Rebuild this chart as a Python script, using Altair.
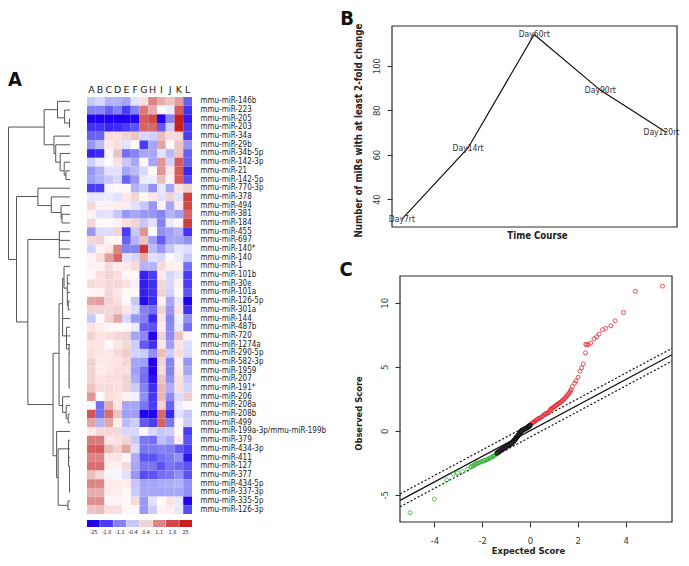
import altair as alt
import pandas as pd

FONT = "DejaVu Sans Condensed"

# ---------- panel A data ----------
rows = ["mmu-miR-146b","mmu-miR-223","mmu-miR-205","mmu-miR-203","mmu-miR-34a","mmu-miR-29b","mmu-miR-34b-5p",
        "mmu-miR-142-3p","mmu-miR-21","mmu-miR-142-5p","mmu-miR-770-3p","mmu-miR-378","mmu-miR-494","mmu-miR-381",
        "mmu-miR-184","mmu-miR-455","mmu-miR-697","mmu-miR-140*","mmu-miR-140","mmu-miR-1","mmu-miR-101b","mmu-miR-30e",
        "mmu-miR-101a","mmu-miR-126-5p","mmu-miR-301a","mmu-miR-144","mmu-miR-487b","mmu-miR-720","mmu-miR-1274a",
        "mmu-miR-290-5p","mmu-miR-582-3p","mmu-miR-1959","mmu-miR-207","mmu-miR-191*","mmu-miR-206","mmu-miR-208a",
        "mmu-miR-208b","mmu-miR-499","mmu-miR-199a-3p/mmu-miR-199b","mmu-miR-379","mmu-miR-434-3p","mmu-miR-411",
        "mmu-miR-127","mmu-miR-377","mmu-miR-434-5p","mmu-miR-337-3p","mmu-miR-335-5p","mmu-miR-126-3p"]
columns = list("ABCDEFGHIJKL")
heat = [
 [-1,-.7,-1.3,-1.3,-1.5,-.5,.7,2,1.5,1.2,1.7,-2.5],
 [-2,-2,-2.5,-2,-3,-2,2.2,1.5,0,-.3,2.7,-3.2],
 [-4,-4,-4,-4,-4,-4,2.7,3,-4,-2,4,-3.7],
 [-3.2,-3.2,-3.5,-3.4,-3,-2.7,2.5,2.5,-2.6,-.8,4,-3],
 [-2.5,-2.5,.7,.7,1,1.2,-.7,-.8,1.3,.8,.9,-3],
 [-1.7,-1.2,.5,.7,-.5,0,-3,-1.5,1.6,0,1.2,-1.7],
 [-3.6,-3.4,-.1,1.2,-2.3,-2,-1.5,-1.5,-.5,-1.2,1.2,-2.5],
 [-.8,-.3,0,.7,-1,-1.5,0,-1.5,1.8,-.8,2.7,-2.5],
 [-1.7,-1.3,-.5,-.5,-1.5,-1.2,-.7,0,1.8,.5,2.7,-3.5],
 [-1.6,-1.3,-1,-.7,-2.5,-1.7,-.3,-.3,1.3,.1,2.7,-2.8],
 [-3,-3,-.1,0,0,-1.3,-1,-1.8,-.4,-1.5,.6,1],
 [-.4,-.4,-.3,-.5,.5,1,0,.5,-.5,1,-.5,3.2],
 [.9,.2,.2,.3,.3,-.5,-1,-1.7,.2,-1.5,.4,3],
 [.2,-.5,-.5,-1,-1.7,-1.5,-1.7,-1.7,-2,-1.3,-1.6,2.5],
 [.9,0,0,.2,.7,1,-1,-.5,-2,-.3,.1,3.3],
 [-1.7,-.6,-.6,1,-3,-1,1.8,0,-1.8,-1.6,-1.3,-3.2],
 [.9,1,.1,0,-2.5,-1.3,1.2,-1.6,-2.6,-1.5,-1.5,-1.8],
 [-.8,.2,.5,2,-2,-2,3.5,-1.2,-1.7,-1,-.4,-.6],
 [.2,.7,1.7,2.5,-.5,-.7,1.5,-.5,-.7,0,-.3,-1],
 [.2,.2,.8,.3,.5,.8,-1.3,-1.3,.8,.3,.2,-2.3],
 [0,.7,1,.7,0,0,-3.6,-3,.4,-.7,-.4,-3],
 [.8,.7,.9,.9,.7,-.2,-3.7,-3.3,.9,-.7,.2,-3],
 [0,.2,.9,.5,0,0,-3.6,-3.2,1,-.8,0,-2.7],
 [1.6,1.7,1,.7,0,-1,-3.9,-3.4,.2,-1.5,-.4,-4],
 [1,1,.9,1,.5,-.6,-2,-2.3,1,-1.7,.6,-3.3],
 [-1,0,1,1.6,-.7,-1.7,-2,-3.5,.6,-2,-.2,-1.8],
 [.6,.3,0,0,0,-.3,-2.5,-2.7,.3,-1.9,-.3,-2.3],
 [1,.6,.7,.9,1,-1.5,-1.9,-4,1,-1.9,1.2,.1],
 [.6,.5,0,.5,.9,-.9,-2.6,-3.3,.5,-1.6,.6,-.6],
 [.7,.5,.5,.8,1.1,-.8,-.9,-1.8,1.3,-.9,.7,-.7],
 [1,.4,.5,.6,.9,-1.5,-1.6,-4,1,-2,.2,-1.7],
 [1,.4,.5,.7,.7,-1.6,-2.2,-4,.8,-2,.4,-1.5],
 [1,.6,.7,.7,1,-1.4,-2.3,-3.8,1.2,-1.8,.7,-1],
 [1.2,.8,.8,.7,1,-.9,-2,-3.3,1.4,-1.4,.7,-.8],
 [1.8,0,.7,.6,.2,-.2,-1.8,-3.1,1.4,-1.9,-.6,1.1],
 [0,-2.3,1.5,.5,-1.5,-1.5,-2.2,-3,1,-2.5,-.3,0],
 [2.8,-2.3,2.4,1.2,-1.6,-1.6,-4,-4,2.5,-3.5,-.5,-1],
 [1.6,-1.3,1.6,.3,-1.2,-.9,-2.6,-3,2.6,-2.2,0,-.9],
 [.4,.9,.9,.9,-.7,-.7,0,-.7,-1,-.9,0,-3],
 [2.2,2.2,.5,.7,1,-1,-2.2,-2.3,-1.1,-1.4,.3,-2.7],
 [2.6,2.7,1.3,1,1.6,-.6,-2.2,-2.1,-2,-2.1,-2.6,-3],
 [2,2,.5,.6,0,-1.4,-2.7,-2.7,-2.3,-2.1,-1.8,-3.8],
 [2.4,2.4,.3,.2,.8,-1.5,-2.2,-2.2,-2.7,-2.2,-2.4,-2.7],
 [1.3,.9,-.1,-.1,-.5,-1.7,-2.8,-2.7,-2.3,-2.2,-1.8,-2.7],
 [2,2,.4,.4,.3,-1,-1.5,-1.5,-1.4,-1.4,-1.3,-1.8],
 [1.5,1.5,.4,.3,0,-.9,-1.5,-1.5,-1.5,-1.5,-1.5,-1.8],
 [1.9,1.9,.1,.1,0,.8,-1.7,-.5,0,.6,-.4,-4],
 [1.2,1.3,.7,.7,0,0,-1.7,-.9,.2,.2,-.4,-2.8],
]
color_levels = [-4,-3,-2,-1,0,1,2,3,4]
color_hex = ["#2200f0","#4a3cf4","#8582f2","#c8c8f8","#ffffff","#f0d4d4","#da8686","#d04848","#c81e1e"]
key_levels = [-4,-3,-2,-1,1,2,3,4]
key_labels = ["-25","-1.8","-1.1","-0.4","0.4","1.1","1.8","25"]

# dendrogram: (height, row from, row to) and (row, height from, height to)
den_v = [(1,2.96,18.2),(41,.96,5),(56,0,1.9),(64,1,2.5),(69.5,2,3),(52,4,6),(54,5,7),(59,6,8),(63.5,7,8.5),(65.5,8,9),
         (10,10.95,25.4),(34,10,12),(49,11,12.8),(60,12,13.5),(61,13,14),(22.7,15.9,34.9),(58,15,18),
         (51,29,40.8),(57.7,23.3,35),(61.7,20.4,27),(63.3,19,21.5),(67,20,23.5),(68,23,24),(66,26,28.5),(69,28,33),
         (61.7,34,35.8),(65.7,35,36.5),(68,36,37),(55,38,43.3),(56.7,40,46.5),(68.3,39,42),(69.5,42,45),(67.7,46,47)]
den_h = [(2.96,1,41),(.96,41,56),(0,56,70),(1.9,56,64),(1,64,70),(2.5,64,69.5),(2,69.5,70),(3,69.5,70),
         (5,41,52),(4,52,70),(6,52,54),(5,54,70),(7,54,59),(6,59,70),(8,59,63.5),(7,63.5,70),(8.5,63.5,65.5),(8,65.5,70),(9,65.5,70),
         (18.2,1,10),(10.95,10,34),(10,34,70),(12,34,49),(11,49,70),(12.8,49,60),(12,60,70),(13.5,60,61),(13,61,70),(14,61,70),
         (25.4,10,22.7),(15.9,22.7,58),(15,58,70),(16,58,70),(17,58,70),(18,58,70),
         (34.9,22.7,51),(29,51,57.7),(23.3,57.7,61.7),(20.4,61.7,63.3),(19,63.3,70),(21.5,63.3,67),(20,67,70),(21,67,70),(22,67,70),
         (23.5,67,68),(23,68,70),(24,68,70),(25,61.7,70),(27,61.7,66),(26,66,70),(27,66,70),(28,66,70),(28.5,66,69),
         (29,69,70),(30,69,70),(31,69,70),(32,69,70),(33,69,70),
         (35,57.7,61.7),(34,61.7,70),(35.8,61.7,65.7),(35,65.7,70),(36.5,65.7,68),(36,68,70),(37,68,70),
         (40.8,51,55),(38,55,70),(43.3,55,56.7),(40,56.7,68.3),(46.5,56.7,67.7),(39,68.3,70),(40,68.3,70),(41,68.3,70),
         (42,68.3,69.5),(42,69.5,70),(43,69.5,70),(44,69.5,70),(45,69.5,70),(46,67.7,70),(47,67.7,70)]

# ---------- panel B data ----------
days = ["Day7rt","Day14rt","Day60rt","Day90rt"]
day_order = [1,2,3,4]
mirs = [31,63,114,89]
last_day, last_order, last_mirs = "Day120rt", 5, 70

# ---------- panel C data ----------
red_x = [5.54,4.41,3.91,3.56,3.38,3.17,3.03,2.89,2.79,2.68,2.54,2.44,2.37,2.33,2.32,2.23,2.16,2.09,2.01,1.92,1.87,1.77,
         1.72,1.7,1.66,1.62,1.58,1.54,1.5,1.46,1.42,1.38,1.34,1.3,1.26,1.22,1.18,1.14,1.1,1.06,1.02,.98,.94,.9,.87,.84,.8,
         .76,.72,.68,.64,.6,.55,.5,.47,.42,.38,.33,.29,.25,.2,.17,.13,.1,.06,.02]
red_y = [11.3,10.89,9.24,8.59,8.2,8.0,7.89,7.55,7.34,7.19,6.85,6.72,6.72,6.75,6.09,5.23,4.92,4.64,4.17,3.9,3.72,3.46,
         3.2,3.13,3.0,2.9,2.82,2.72,2.62,2.54,2.46,2.4,2.32,2.26,2.2,2.16,2.1,2.06,2.0,1.94,1.88,1.82,1.78,1.73,1.68,1.6,1.47,
         1.41,1.38,1.35,1.32,1.27,1.18,1.1,1.06,1.0,.97,.93,.88,.8,.74,.7,.66,.6,.55,.47]
black_x = [-1.38,-1.32,-1.26,-1.2,-1.14,-1.08,-1.02,-.96,-.9,-.84,-.78,-.72,-.68,-.64,-.6,-.56,-.52,-.48,-.44,-.4,-.36,-.32,-.26,-.2,-.14,-.08,-.04,0]
black_y = [-1.74,-1.66,-1.58,-1.5,-1.42,-1.36,-1.28,-1.2,-1.14,-1.08,-1.0,-.9,-.8,-.7,-.6,-.5,-.42,-.32,-.22,-.1,-.02,.04,.1,.16,.22,.3,.36,.42]
green_x = [-5.02,-4.0,-3.49,-3.2,-3.03,-2.82,-2.62,-2.47,-2.45,-2.4,-2.36,-2.32,-2.28,-2.24,-2.2,-2.15,-2.1,-2.05,-2.0,-1.95,-1.9,-1.85,-1.8,-1.75,-1.7,-1.65,-1.6,-1.55,-1.5,-1.45,-1.4]
green_y = [-6.4,-5.34,-3.85,-3.38,-3.28,-3.2,-3.02,-2.81,-2.8,-2.76,-2.72,-2.66,-2.6,-2.56,-2.52,-2.5,-2.47,-2.43,-2.4,-2.36,-2.32,-2.3,-2.26,-2.2,-2.16,-2.12,-2.06,-2.0,-1.96,-1.88,-1.8]
ref_x = [-5.44,5.94]
ref_mid = [-5.44,5.94]
ref_up = [-4.94,6.44]
ref_lo = [-5.94,5.44]

# ---------- scales (pixel ranges are view coordinates: image minus the 8px margin) ----------
W, H = 673, 550
def lin(dom, rng):
    return alt.Scale(domain=dom, range=rng, zero=False, nice=False)

cscale = alt.Scale(domain=color_levels, range=color_hex, type="linear")
TXT = "#3a3a3a"
LINE = "#2a2a2a"
HYPHEN = "replace(format(datum.value,'d'),'\u2212','-')"

# ---------- dendrogram ----------
dx = lin([1, 70], [0.5, 62])
dy = lin([-.5, 47.5], [89, 506])
dv = pd.DataFrame(den_v, columns=["h", "r1", "r2"])
dh = pd.DataFrame(den_h, columns=["r", "h1", "h2"])
dend = alt.layer(
    alt.Chart(dv).mark_rule(color="#555555", strokeWidth=1).encode(
        x=alt.X("h:Q", scale=dx, axis=None),
        y=alt.Y("r1:Q", scale=dy, axis=None), y2="r2:Q"),
    alt.Chart(dh).mark_rule(color="#555555", strokeWidth=1).encode(
        x=alt.X("h1:Q", scale=dx, axis=None), x2="h2:Q",
        y=alt.Y("r:Q", scale=dy, axis=None)),
)

# ---------- heatmap ----------
hdf = pd.DataFrame([(r, c, heat[i][j]) for i, r in enumerate(rows) for j, c in enumerate(columns)],
                   columns=["row", "col", "v"])
hmap = alt.Chart(hdf).mark_rect(strokeWidth=0).encode(
    x=alt.X("col:N", sort=columns, title=None,
            scale=alt.Scale(domain=columns, range=[79, 184], paddingInner=0, paddingOuter=0),
            axis=alt.Axis(orient="top", offset=-87, ticks=False, domain=False, labelAngle=0, labelPadding=1,
                          labelFont="DejaVu Sans", labelFontSize=9.5, labelColor="#222222", grid=False)),
    y=alt.Y("row:N", sort=rows, title=None,
            scale=alt.Scale(domain=rows, range=[89, 506], paddingInner=0, paddingOuter=0),
            axis=alt.Axis(orient="right", offset=-(W - 188), ticks=False, domain=False, labelPadding=4, labelOverlap=False,
                          labelFont=FONT, labelFontSize=8, labelColor="#222222", grid=False)),
    color=alt.Color("v:Q", scale=cscale, legend=None),
)

# ---------- colour key ----------
kdf = pd.DataFrame({"lab": key_labels, "lev": key_levels, "o": ["k"] * 8})
key = alt.Chart(kdf).mark_rect(strokeWidth=0).encode(
    x=alt.X("lab:N", sort=key_labels, title=None,
            scale=alt.Scale(domain=key_labels, range=[79, 184], paddingInner=0.03, paddingOuter=0),
            axis=alt.Axis(orient="bottom", offset=-(H - 519), ticks=False, domain=False, labelAngle=0, labelPadding=2,
                          labelFont=FONT, labelFontSize=5.5, labelColor="#222222", grid=False)),
    y=alt.Y("o:N", title=None, scale=alt.Scale(domain=["k"], range=[512, 519], paddingInner=0, paddingOuter=0), axis=None),
    color=alt.Color("lev:Q", scale=cscale, legend=None),
)

# ---------- panel B ----------
bx = lin([.85, 5.16], [384, 669])
by = lin([27.5, 117.8], [219, 18])
bdf = pd.DataFrame({"d": days + [last_day], "i": day_order + [last_order], "n": mirs + [last_mirs]})
bframe = alt.Chart(pd.DataFrame({"x0": [.85], "x1": [5.16], "y0": [27.5], "y1": [117.8]})).mark_rect(
    fillOpacity=0, stroke=LINE, strokeWidth=1.2).encode(
    x=alt.X("x0:Q", scale=bx, title="Time Course",
            axis=alt.Axis(orient="bottom", offset=-(H - 219), ticks=False, labels=False, domain=False, grid=False,
                          titleFont=FONT, titleFontSize=9.6, titleFontWeight="bold", titleColor="#222222",
                          titlePadding=3, titleX=529)),
    x2="x1:Q",
    y=alt.Y("y0:Q", scale=by, title="Number of miRs with at least 2-fold change",
            axis=alt.Axis(orient="left", offset=-384, values=[40, 60, 80, 100], domain=False, grid=False, tickSize=5,
                          tickColor=LINE, labelAngle=270, labelAlign="center", labelBaseline="bottom", labelPadding=6,
                          labelFont=FONT, labelFontSize=9.5, labelColor=TXT,
                          titleFont=FONT, titleFontSize=9.7, titleFontWeight="bold", titleColor="#222222",
                          titlePadding=8, titleY=122)),
    y2="y1:Q",
)
bline = alt.Chart(bdf).mark_line(color="#111111", strokeWidth=1.2).encode(
    x=alt.X("i:Q", scale=bx), y=alt.Y("n:Q", scale=by))
btext = alt.Chart(bdf[bdf.i < last_order]).mark_text(font=FONT, fontSize=8.5, color="#333333").encode(
    x=alt.X("i:Q", scale=bx), y=alt.Y("n:Q", scale=by), text="d:N")
btext_last = alt.Chart(bdf[bdf.i == last_order]).mark_text(font=FONT, fontSize=8.5, color="#333333", dx=-5).encode(
    x=alt.X("i:Q", scale=bx), y=alt.Y("n:Q", scale=by), text="d:N")
panelB = alt.layer(bframe, bline, btext, btext_last)

# ---------- panel C ----------
cx = lin([-5.44, 5.94], [392, 664])
cy = lin([-7.13, 12.09], [514, 268])
cframe = alt.Chart(pd.DataFrame({"x0": [-5.44], "x1": [5.94], "y0": [-7.13], "y1": [12.09]})).mark_rect(
    fillOpacity=0, stroke=LINE, strokeWidth=1.2).encode(
    x=alt.X("x0:Q", scale=cx, title="Expected Score",
            axis=alt.Axis(orient="bottom", offset=-(H - 514), values=[-4, -2, 0, 2, 4], domain=False, grid=False, tickSize=5,
                          tickColor=LINE, labelPadding=8, labelFont=FONT, labelFontSize=9.5, labelColor=TXT,
                          labelExpr=HYPHEN,
                          titleFont=FONT, titleFontSize=9.4, titleFontWeight="bold", titleColor="#222222",
                          titlePadding=2, titleX=520)),
    x2="x1:Q",
    y=alt.Y("y0:Q", scale=cy, title="Observed Score",
            axis=alt.Axis(orient="left", offset=-392, values=[-5, 0, 5, 10], domain=False, grid=False, tickSize=5,
                          tickColor=LINE, labelAngle=270, labelAlign="center", labelBaseline="bottom", labelPadding=6,
                          labelFont=FONT, labelFontSize=9.5, labelColor=TXT, labelExpr=HYPHEN,
                          titleFont=FONT, titleFontSize=9.3, titleFontWeight="bold", titleColor="#222222",
                          titlePadding=16, titleY=405)),
    y2="y1:Q",
)
def refline(vals, dash):
    d = pd.DataFrame({"x": ref_x, "y": vals})
    kw = {"strokeDash": dash} if dash else {}
    return alt.Chart(d).mark_line(color="#111111", strokeWidth=1.2, **kw).encode(
        x=alt.X("x:Q", scale=cx), y=alt.Y("y:Q", scale=cy))
def pts(xs, ys, col, sw):
    d = pd.DataFrame({"x": xs, "y": ys})
    return alt.Chart(d).mark_point(filled=False, color=col, size=16, strokeWidth=sw, opacity=.85).encode(
        x=alt.X("x:Q", scale=cx), y=alt.Y("y:Q", scale=cy))
panelC = alt.layer(cframe, refline(ref_mid, None), refline(ref_up, [2, 2]), refline(ref_lo, [2, 2]),
                   pts(green_x, green_y, "#3fb53f", 1.0), pts(red_x, red_y, "#e8303a", 1.0), pts(black_x, black_y, "#111111", 1.3))

# ---------- panel letters ----------
def letter(t, px, py):
    return alt.Chart(pd.DataFrame({"t": [t]})).mark_text(font=FONT, fontSize=20, fontWeight="bold", color="#111111").encode(
        x=alt.value(px), y=alt.value(py), text="t:N")

chart = alt.layer(
    dend, hmap, key, panelB, panelC,
    letter("A", 7, 72), letter("B", 339, 11), letter("C", 338, 262),
).resolve_scale(x="independent", y="independent").resolve_axis(x="independent", y="independent").properties(
    width=W, height=H, padding=0, autosize=alt.AutoSizeParams(type="none"),
).configure_view(stroke=None)

chart.save("out.html", embed_options={"renderer": "svg", "actions": False})
